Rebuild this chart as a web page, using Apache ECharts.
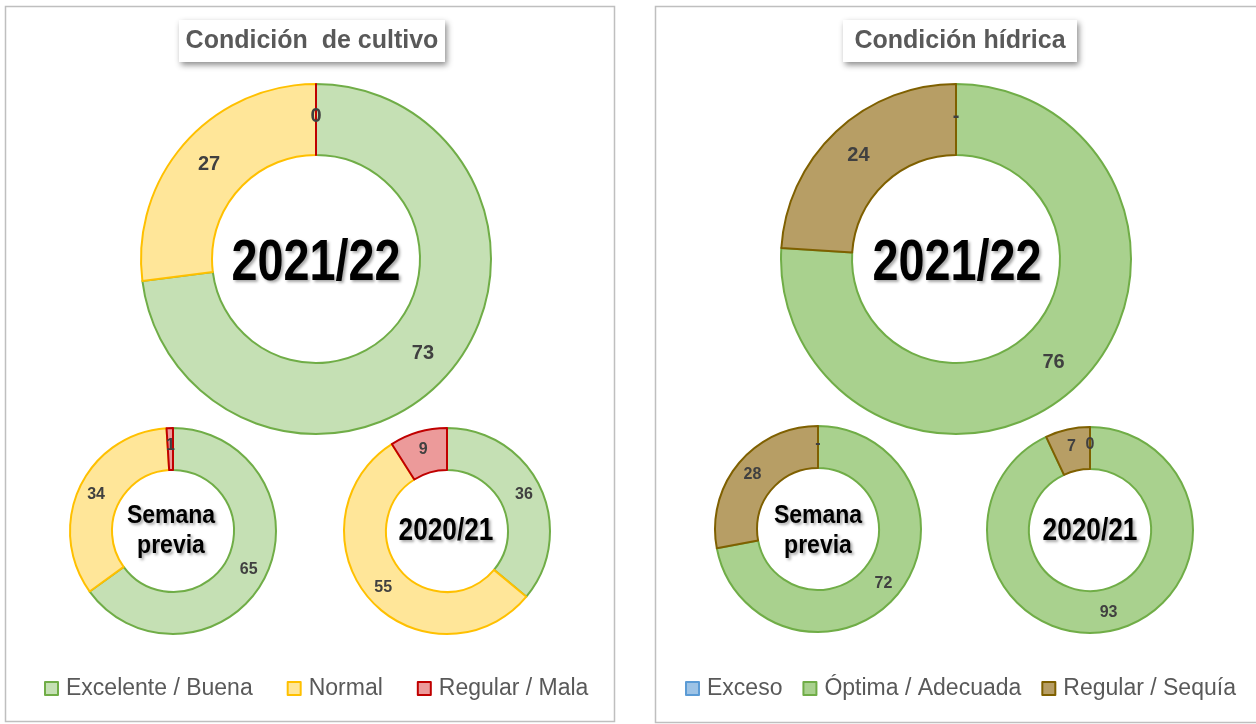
<!DOCTYPE html>
<html>
<head>
<meta charset="utf-8">
<script src="https://cdn.jsdelivr.net/npm/echarts@6/dist/echarts.min.js"></script>
<style>
html,body{margin:0;padding:0;background:#fff;}
#chart{width:1256px;height:724px;}
</style>
</head>
<body>
<div id="chart"></div>
<script>
// ---- Data ----
const cropCategories = ['Excelente / Buena', 'Normal', 'Regular / Mala'];
const crop2122 = [73, 27, 0];
const cropPrev = [65, 34, 1];
const crop2021 = [36, 55, 9];

const waterCategories = ['Exceso', 'Óptima / Adecuada', 'Regular / Sequía'];
const water2122 = [0, 76, 24];
const waterPrev = [0, 72, 28];
const water2021 = [0, 93, 7];

const periodLabels = ['2021/22', 'Semana\nprevia', '2020/21'];
const panelTitles = ['Condición  de cultivo', 'Condición hídrica'];

// ---- Styles ----
const cropStyles = [
  {color: '#C5E0B4', borderColor: '#70AD47'},
  {color: '#FFE699', borderColor: '#FFC000'},
  {color: '#EC9A9A', borderColor: '#C00000'}
];
const waterStyles = [
  {color: '#9DC3E6', borderColor: '#5B9BD5'},
  {color: '#A9D18E', borderColor: '#70AD47'},
  {color: '#B79E65', borderColor: '#7F6000'}
];

function buildData(cats, vals, styles) {
  return cats.map((c, i) => ({
    name: c, value: vals[i],
    itemStyle: {color: styles[i].color, borderColor: styles[i].borderColor, borderWidth: 2}
  }));
}

function pie(cats, vals, styles, center, radius, fontSize, zeroText) {
  return {
    type: 'pie', center: center, radius: radius, startAngle: 90, clockwise: true,
    silent: true, animation: false, avoidLabelOverlap: false,
    minShowLabelAngle: 0,
    label: {
      show: true, position: 'inside', color: '#404040',
      fontFamily: 'Liberation Sans', fontWeight: 'bold', fontSize: fontSize,
      formatter: p => (p.value === 0 ? zeroText : String(p.value))
    },
    labelLine: {show: false},
    emphasis: {disabled: true},
    data: buildData(cats, vals, styles)
  };
}

const bigR = [104, 175];
const smallR = [61, 103];

function centerText(text, x, y, size, sx, lh) {
  return {type: 'text', x: x, y: y, z: 10, scaleX: sx, scaleY: 1,
    style: {
      text: text, fill: '#000', fontFamily: 'Liberation Sans', fontWeight: 'bold', fontSize: size,
      lineHeight: lh || Math.round(size * 1.2),
      textAlign: 'center', textVerticalAlign: 'middle',
      textShadowColor: 'rgba(0,0,0,0.35)', textShadowBlur: 3, textShadowOffsetX: 2, textShadowOffsetY: 2
    }};
}

const chart = echarts.init(document.getElementById('chart'), null, {renderer: 'canvas'});

const legendText = {fontFamily: 'Liberation Sans', fontSize: 23, color: '#595959', padding: [0, 0, 0, 3]};

const option = {
  backgroundColor: '#fff',
  animation: false,
  legend: [
    {
      data: cropCategories, left: 39, top: 672, itemWidth: 13, itemHeight: 13, itemGap: 34,
      icon: 'rect', selectedMode: false, textStyle: legendText
    },
    {
      data: waterCategories, left: 680, top: 672, itemWidth: 13, itemHeight: 13, itemGap: 20,
      icon: 'rect', selectedMode: false, textStyle: legendText
    }
  ],
  graphic: [
    {type: 'rect', shape: {x: 5.5, y: 6.5, width: 609, height: 715}, style: {fill: 'none', stroke: '#BFBFBF', lineWidth: 1.5}},
    {type: 'rect', shape: {x: 655.5, y: 6.5, width: 620, height: 716}, style: {fill: 'none', stroke: '#BFBFBF', lineWidth: 1.5}},
    {type: 'rect', shape: {x: 179, y: 20, width: 266, height: 42},
      style: {fill: '#fff', shadowColor: 'rgba(0,0,0,0.45)', shadowBlur: 6, shadowOffsetX: 2, shadowOffsetY: 3}},
    {type: 'rect', shape: {x: 843, y: 20, width: 234, height: 42},
      style: {fill: '#fff', shadowColor: 'rgba(0,0,0,0.45)', shadowBlur: 6, shadowOffsetX: 2, shadowOffsetY: 3}},
    {type: 'text', x: 312, y: 41, style: {text: panelTitles[0], fill: '#595959', fontFamily: 'Liberation Sans', fontWeight: 'bold', fontSize: 25, textAlign: 'center', textVerticalAlign: 'middle'}},
    {type: 'text', x: 960, y: 41, style: {text: panelTitles[1], fill: '#595959', fontFamily: 'Liberation Sans', fontWeight: 'bold', fontSize: 25, textAlign: 'center', textVerticalAlign: 'middle'}},
    centerText(periodLabels[0], 316, 264, 57, 0.82),
    centerText(periodLabels[1], 171, 531, 25, 0.92, 30),
    centerText(periodLabels[2], 446, 531, 32, 0.82),
    centerText(periodLabels[0], 957, 264, 57, 0.82),
    centerText(periodLabels[1], 818, 531, 25, 0.92, 30),
    centerText(periodLabels[2], 1090, 531, 32, 0.82)
  ],
  series: [
    pie(cropCategories, crop2122, cropStyles, [316, 259], bigR, 20, '0'),
    pie(cropCategories, cropPrev, cropStyles, [173, 531], smallR, 16, '0'),
    pie(cropCategories, crop2021, cropStyles, [447, 531], smallR, 16, '0'),
    pie(waterCategories, water2122, waterStyles, [956, 259], bigR, 20, '-'),
    pie(waterCategories, waterPrev, waterStyles, [818, 529], smallR, 16, '-'),
    pie(waterCategories, water2021, waterStyles, [1090, 530], smallR, 16, '0')
  ]
};
chart.setOption(option);
</script>
</body>
</html>
